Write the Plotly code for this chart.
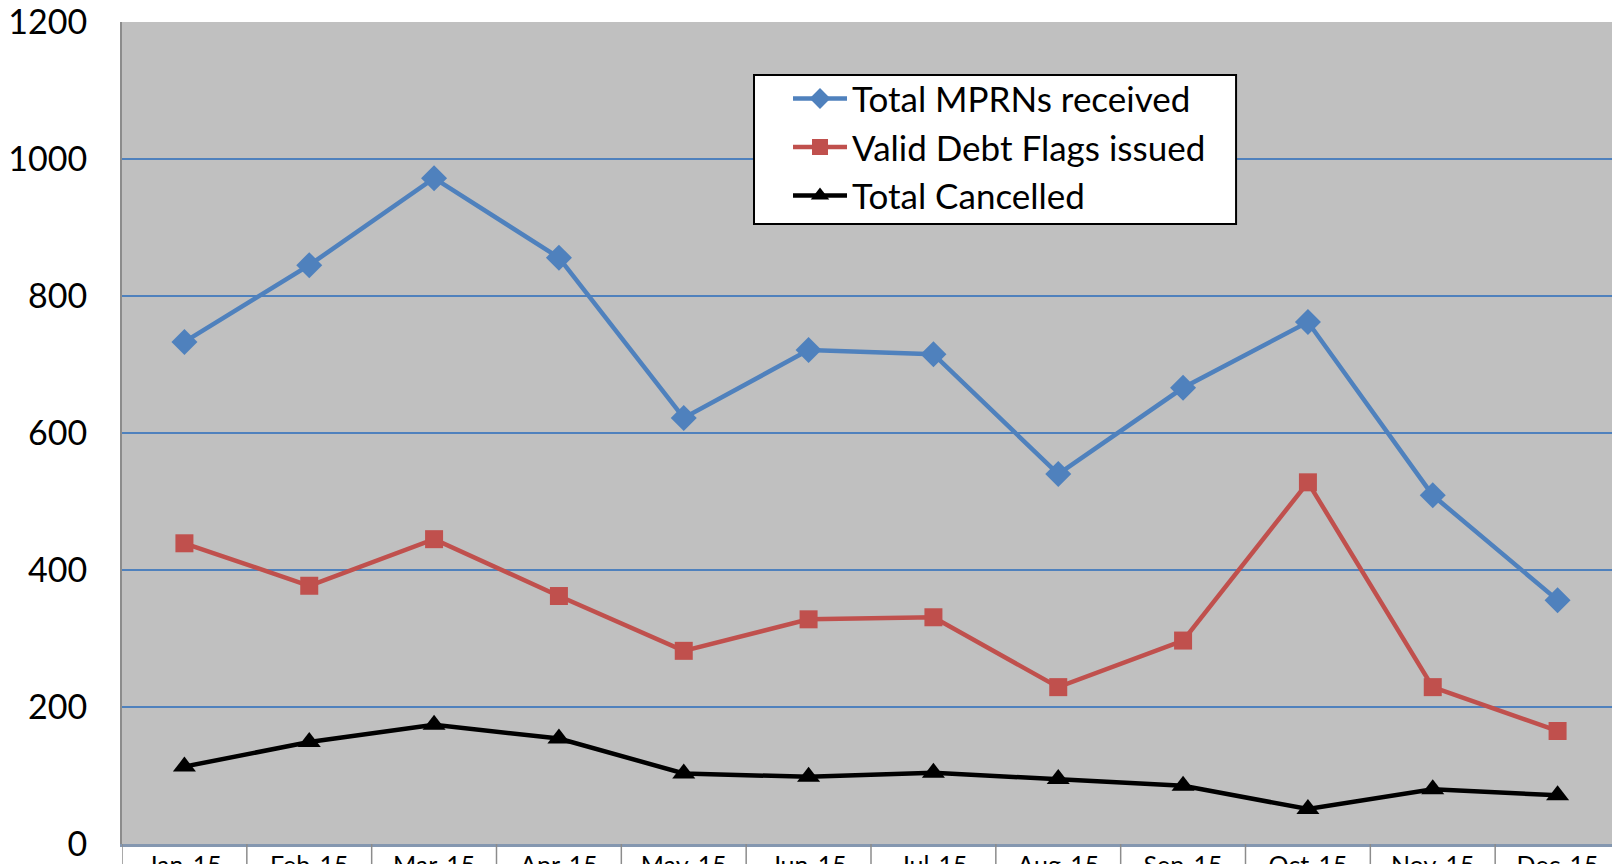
import plotly.graph_objects as go

months = ["Jan-15", "Feb-15", "Mar-15", "Apr-15", "May-15", "Jun-15",
          "Jul-15", "Aug-15", "Sep-15", "Oct-15", "Nov-15", "Dec-15"]
total_mprns = [733, 845, 972, 856, 622, 721, 715, 540, 666, 762, 509, 356]
valid_flags = [439, 377, 445, 362, 282, 328, 331, 229, 297, 528, 229, 165]
total_cancelled = [113, 149, 174, 154, 103, 98, 104, 95, 85, 51, 80, 71]
y_ticks = [0, 200, 400, 600, 800, 1000, 1200]

FONT = "Lato, 'Noto Sans', sans-serif"

fig = go.Figure()
fig.add_trace(go.Scatter(x=months, y=total_mprns, name="Total MPRNs received",
                         mode="lines+markers",
                         line=dict(color="#4F81BD", width=4.5),
                         marker=dict(symbol="diamond", size=20, color="#4F81BD")))
fig.add_trace(go.Scatter(x=months, y=valid_flags, name="Valid Debt Flags issued",
                         mode="lines+markers",
                         line=dict(color="#C0504D", width=4.5),
                         marker=dict(symbol="square", size=18, color="#C0504D")))
fig.add_trace(go.Scatter(x=months, y=total_cancelled, name="Total Cancelled",
                         mode="lines+markers",
                         line=dict(color="#000000", width=4.5),
                         marker=dict(symbol="triangle-up", size=20, color="#000000")))

# category dividers below the axis
for k in range(len(months) + 1):
    fig.add_shape(type="line", xref="x", yref="paper",
                  x0=k - 0.5, x1=k - 0.5, y0=0, y1=-0.05,
                  line=dict(color="#8C8C8C", width=1.5))

# legend frame
fig.add_shape(type="rect", xref="paper", yref="paper",
              x0=0.4219, x1=0.7437, y0=0.7543, y1=0.9355,
              fillcolor="white", line=dict(color="black", width=2), layer="above")

fig.update_layout(
    width=1612, height=856,
    margin=dict(l=114, r=0, t=14, b=20, autoexpand=False),
    paper_bgcolor="white",
    plot_bgcolor="#C0C0C0",
    font=dict(family=FONT, size=34, color="black"),
    showlegend=True,
    legend=dict(x=0.4446, y=0.9425, xanchor="left", yanchor="top",
                bgcolor="rgba(0,0,0,0)", borderwidth=0,
                font=dict(size=35), itemwidth=54,
                tracegroupgap=0),
)
fig.update_xaxes(type="category", range=[-0.5, len(months) - 0.5],
                 showgrid=False, showline=True, linecolor="#8497B0", linewidth=3,
                 ticks="", tickfont=dict(size=25), zeroline=False, automargin=False,
                 ticklabeloverflow="allow", ticklabelstandoff=-3)
fig.update_yaxes(range=[0, 1200], tickvals=y_ticks,
                 showgrid=True, gridcolor="#4F81BD", gridwidth=1.5,
                 showline=True, linecolor="#8C8C8C", linewidth=2,
                 ticks="", ticklabelstandoff=26, zeroline=False, automargin=False,
                 ticklabeloverflow="allow", tickfont=dict(size=34))

fig.write_html("out.html")
